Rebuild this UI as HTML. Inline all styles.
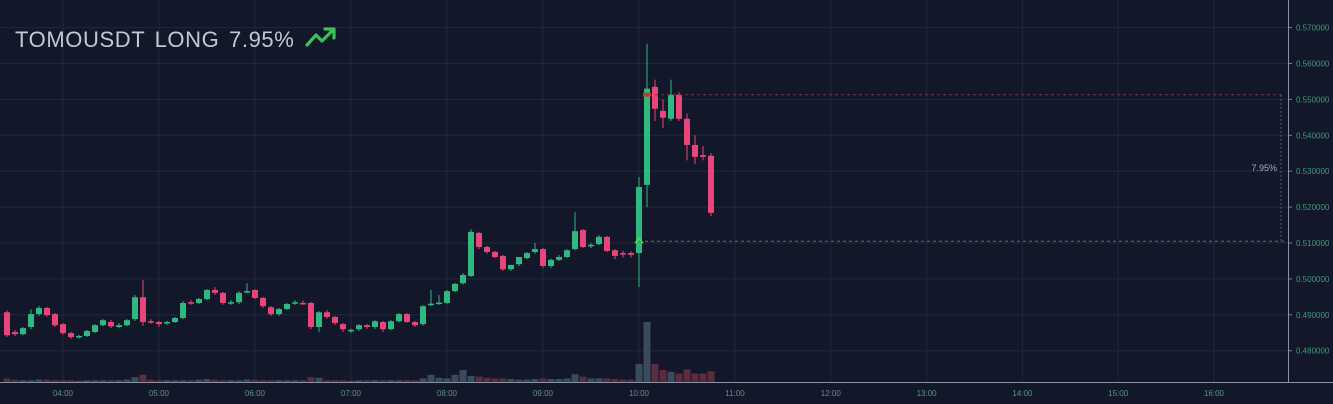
<!DOCTYPE html>
<html><head><meta charset="utf-8"><style>
html,body{margin:0;padding:0;background:#121829;}
svg{display:block;font-family:"Liberation Sans",sans-serif;}
</style></head><body>
<svg id="chart" width="1333" height="404" viewBox="0 0 1333 404" xmlns="http://www.w3.org/2000/svg">
<rect x="0" y="0" width="1333" height="404" fill="#121829"/>
<g id="grid"></g>
<g id="vol"></g>
<g id="candles"></g>
<g id="overlay"></g>
<g id="axes"></g>
<text x="15" y="47" font-size="22" letter-spacing="0.6" word-spacing="3" fill="#c3c8d2">TOMOUSDT LONG 7.95%</text>
<g stroke="#3bc15a" stroke-width="3.2" fill="none" stroke-linecap="round" stroke-linejoin="round">
<polyline points="307,45 316,35 322,41 333,30"/>
<polyline points="325,29 334,29 334,38"/>
</g>
</svg>
<script>
const priceTicks=[0.57,0.56,0.55,0.54,0.53,0.52,0.51,0.50,0.49,0.48];
const priceTickLabels=["0.570000","0.560000","0.550000","0.540000","0.530000","0.520000","0.510000","0.500000","0.490000","0.480000"];
const timeTickIndex=[7,19,31,43,55,67,79,91,103,115,127,139,151];
const timeTickLabels=["04:00","05:00","06:00","07:00","08:00","09:00","10:00","11:00","12:00","13:00","14:00","15:00","16:00"];
const opens=[0.4907,0.4852,0.4846,0.4866,0.4902,0.4919,0.4902,0.4874,0.4849,0.4838,0.4841,0.4852,0.4871,0.4880,0.4866,0.4871,0.4888,0.4949,0.4882,0.4880,0.4877,0.4880,0.4891,0.4935,0.4933,0.4944,0.4969,0.4961,0.4933,0.4935,0.4963,0.4969,0.4947,0.4921,0.4902,0.4916,0.4933,0.4933,0.4933,0.4866,0.4907,0.4894,0.4874,0.4857,0.4860,0.4871,0.4866,0.4880,0.4860,0.4882,0.4902,0.4880,0.4874,0.4930,0.4933,0.4933,0.4966,0.4988,0.5008,0.5128,0.5089,0.5075,0.5064,0.5027,0.5041,0.5058,0.5075,0.5083,0.5036,0.5053,0.5061,0.5083,0.5136,0.5094,0.5097,0.5117,0.5080,0.5072,0.5072,0.5072,0.5262,0.5535,0.5468,0.5446,0.5513,0.5446,0.5373,0.5345,0.5343];
const closes=[0.4843,0.4846,0.4863,0.4902,0.4919,0.4899,0.4871,0.4849,0.4838,0.4841,0.4855,0.4871,0.4885,0.4868,0.4871,0.4885,0.4949,0.4880,0.4880,0.4874,0.4880,0.4891,0.4933,0.4933,0.4944,0.4969,0.4961,0.4933,0.4935,0.4961,0.4966,0.4947,0.4924,0.4902,0.4916,0.4930,0.4935,0.4932,0.4866,0.4907,0.4894,0.4877,0.4860,0.4858,0.4871,0.4866,0.4882,0.4860,0.4882,0.4902,0.4880,0.4871,0.4924,0.4931,0.4934,0.4966,0.4986,0.5011,0.5131,0.5089,0.5075,0.5061,0.5027,0.5039,0.5061,0.5072,0.5083,0.5036,0.5053,0.5061,0.5080,0.5133,0.5089,0.5095,0.5117,0.5078,0.5064,0.5070,0.5067,0.5256,0.5530,0.5474,0.5449,0.5513,0.5446,0.5373,0.5340,0.5340,0.5184];
const highs=[0.4912,0.4858,0.4866,0.4915,0.4925,0.4922,0.4905,0.4877,0.4852,0.4844,0.4858,0.4874,0.4888,0.4886,0.4877,0.4888,0.4955,0.4997,0.4888,0.4883,0.4883,0.4894,0.4938,0.4941,0.4947,0.4972,0.4977,0.4964,0.4941,0.4966,0.4988,0.4972,0.4950,0.4924,0.4919,0.4933,0.4941,0.4939,0.4936,0.4910,0.4913,0.4897,0.4877,0.4861,0.4874,0.4874,0.4885,0.4883,0.4885,0.4905,0.4905,0.4883,0.4927,0.4969,0.4955,0.4969,0.4989,0.5016,0.5138,0.5131,0.5092,0.5078,0.5067,0.5033,0.5044,0.5075,0.5100,0.5086,0.5056,0.5067,0.5083,0.5186,0.5139,0.5100,0.5122,0.5120,0.5083,0.5078,0.5077,0.5284,0.5655,0.5555,0.5500,0.5555,0.5520,0.5460,0.5400,0.5370,0.5350];
const lows=[0.4838,0.4841,0.4843,0.4860,0.4897,0.4895,0.4866,0.4844,0.4833,0.4834,0.4838,0.4849,0.4868,0.4863,0.4863,0.4868,0.4883,0.4869,0.4875,0.4866,0.4872,0.4877,0.4888,0.4928,0.4930,0.4941,0.4955,0.4928,0.4928,0.4930,0.4960,0.4944,0.4919,0.4897,0.4897,0.4913,0.4928,0.4928,0.4860,0.4852,0.4889,0.4872,0.4852,0.4850,0.4855,0.4861,0.4860,0.4852,0.4857,0.4879,0.4877,0.4866,0.4870,0.4925,0.4928,0.4930,0.4963,0.4984,0.5005,0.5083,0.5070,0.5058,0.5022,0.5022,0.5036,0.5055,0.5070,0.5030,0.5030,0.5050,0.5058,0.5080,0.5086,0.5086,0.5094,0.5075,0.5055,0.5060,0.5060,0.4977,0.5200,0.5440,0.5420,0.5440,0.5440,0.5330,0.5320,0.5330,0.5175];
const volumes=[6,4,3,3,4,4,3,3,3,2,3,3,3,3,3,4,8,12,4,3,3,3,3,3,4,5,4,3,3,3,4,4,3,3,3,3,3,3,8,7,3,3,3,2,3,3,3,3,3,3,3,3,6,12,7,6,12,20,10,9,7,6,6,5,4,4,5,6,5,5,6,13,9,6,6,6,5,4,4,30,100,30,20,17,14,21,14,14,18];
const entryPrice=0.5105, targetPrice=0.5513, pctLabel="7.95%";

const NS="http://www.w3.org/2000/svg";
const Y0=243, PXPER=3590;
function yScale(p){return Y0-(p-0.51)*PXPER;}
function xScale(i){return 7+8*i;}
const BASE=382;
function vScale(v){return v*0.6;}
function mk(tag,attrs,parent){const e=document.createElementNS(NS,tag);for(const k in attrs)e.setAttribute(k,attrs[k]);parent.appendChild(e);return e;}
const grid=document.getElementById('grid'),axes=document.getElementById('axes'),cg=document.getElementById('candles'),vg=document.getElementById('vol'),ov=document.getElementById('overlay');

priceTicks.forEach((p,k)=>{
  const y=yScale(p);
  const l=mk('line',{x1:0,x2:1288,y1:y,y2:y,stroke:'#1f283b','stroke-width':1},grid);
  
  
  const tk=mk('line',{x1:1288,x2:1292,y1:y,y2:y,stroke:'#7a8396'},axes);
  
  
  const t=mk('text',{x:1296,y:y+3,'font-size':8,fill:'#3e9a78'},axes);
  t.textContent=priceTickLabels[k];
  
  
});
timeTickIndex.forEach((i,k)=>{
  const x=xScale(i)-(i>=91?(i-91)/12*0.2:0);
  const l=mk('line',{x1:x,x2:x,y1:0,y2:BASE,stroke:'#1f283b','stroke-width':1},grid);
  
  
  const t=mk('text',{x:x,y:396,'font-size':8,fill:'#5f8f86','text-anchor':'middle'},axes);
  t.textContent=timeTickLabels[k];
  
  
});
const ax1=mk('line',{x1:1288.5,x2:1288.5,y1:0,y2:BASE,stroke:'#8a92a3','stroke-width':1},axes);


const ax2=mk('line',{x1:0,x2:1333,y1:BASE+0.5,y2:BASE+0.5,stroke:'#8a92a3','stroke-width':1},axes);



opens.forEach((o,i)=>{
  const c=closes[i],up=c>=o,x=xScale(i);
  const col=up?'#2fb981':'#e8457a';
  const vh=vScale(volumes[i]);
  const vb=mk('rect',{x:x-3.5,y:BASE-vh,width:7,height:vh,fill:up?'#3a4b5e':'#5a2c3d'},vg);
  
  
  const w=mk('line',{x1:x,x2:x,y1:yScale(highs[i]),y2:yScale(lows[i]),stroke:col,'stroke-width':1},cg);
  
  
  const top=yScale(Math.max(o,c)),bot=yScale(Math.min(o,c));
  const b=mk('rect',{x:x-3,y:top,width:6,height:Math.max(1.5,bot-top),fill:col},cg);
  
  
});

const yt=yScale(targetPrice), ye=yScale(entryPrice);
const tl=mk('line',{x1:643,x2:1284,y1:yt,y2:yt,stroke:'#8a2a35','stroke-dasharray':'3,3'},ov);


const el=mk('line',{x1:639,x2:1284,y1:ye,y2:ye,stroke:'#4d8a2a','stroke-dasharray':'3,3'},ov);


const vl=mk('line',{x1:1281,x2:1281,y1:yt,y2:ye,stroke:'#5a6274','stroke-dasharray':'2,2'},ov);


const pt=mk('text',{x:1277,y:(yt+ye)/2+3,'font-size':9,fill:'#a8adb8','text-anchor':'end'},ov);
pt.textContent=pctLabel;


const mkr=mk('path',{d:`M${xScale(79)-4},${ye+2} L${xScale(79)},${ye-3} L${xScale(79)+4},${ye+2}`,stroke:'#5adf3a','stroke-width':1.5,fill:'none'},ov);


const mr=mk('rect',{x:xScale(80)-4,y:yt-2,width:8,height:4,fill:'#c0392b'},ov);


</script>
</body></html>
